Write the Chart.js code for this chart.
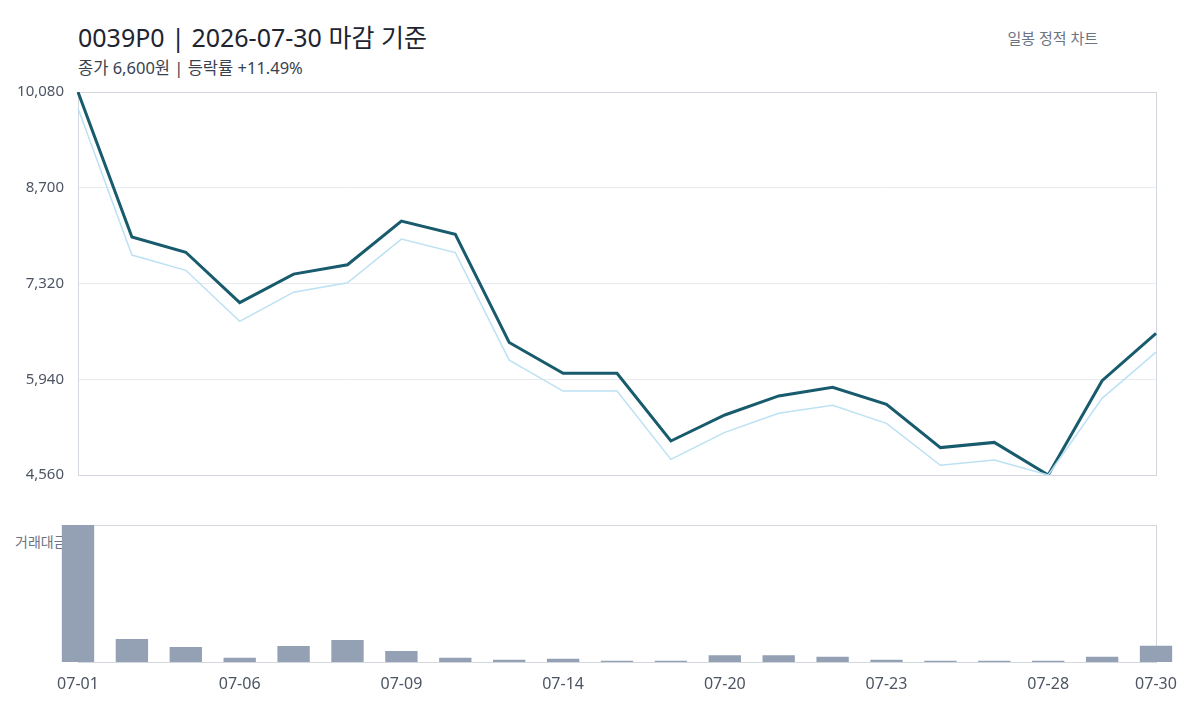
<!DOCTYPE html>
<html>
<head>
<meta charset="utf-8">
<script src="https://cdn.jsdelivr.net/npm/chart.js@4.4.1/dist/chart.umd.min.js"></script>
<style>
  html, body { margin:0; padding:0; background:#ffffff; width:1200px; height:720px; overflow:hidden;
    font-family:"Noto Sans","Noto Sans CJK KR",sans-serif; }
  .txt { position:absolute; line-height:1; white-space:nowrap; }
  #title { left:78px; top:25px; font-size:25px; color:#1e2430; }
  #subtitle { left:78px; top:60px; font-size:16.5px; color:#3a4250; }
  #badge { right:102px; top:31px; font-size:15px; color:#6b7483; }
  #volLabel { left:15px; top:535px; font-size:14px; color:#6b7483; z-index:0; }
  .wrap { position:absolute; left:0; width:1200px; z-index:1; }
  #wrapTop { top:0; height:500px; }
  #wrapBot { top:500px; height:220px; }
</style>
</head>
<body>
<div id="title" class="txt">0039P0 | 2026-07-30 마감 기준</div>
<div id="subtitle" class="txt">종가 6,600원 | 등락률 +11.49%</div>
<div id="badge" class="txt">일봉 정적 차트</div>
<div id="volLabel" class="txt">거래대금</div>
<div id="wrapTop" class="wrap"><canvas id="priceChart" width="1200" height="500"></canvas></div>
<div id="wrapBot" class="wrap"><canvas id="volChart" width="1200" height="220"></canvas></div>
<script>
// ---- data ----
const dates = ['07-01','07-02','07-03','07-06','07-07','07-08','07-09','07-10','07-13','07-14',
               '07-15','07-16','07-20','07-21','07-22','07-23','07-24','07-27','07-28','07-29','07-30'];
const closePrice = [10080, 7990, 7770, 7045, 7455, 7590, 8220, 8030, 6470, 6025,
                    6025, 5050, 5425, 5700, 5825, 5580, 4955, 5030, 4560, 5920, 6600];
const lowPrice = [9845, 7730, 7510, 6775, 7195, 7330, 7960, 7765, 6215, 5770,
                  5770, 4785, 5175, 5450, 5565, 5305, 4700, 4775, 4560, 5665, 6330];
const tradeValue = [137, 23, 15, 4.3, 16, 22, 11, 4.3, 2.3, 3.3,
                    1.3, 1.3, 6.7, 6.7, 5.3, 2.3, 1.3, 1.3, 1.3, 5.3, 16.3];
const yTicks = [4560, 5940, 7320, 8700, 10080];
const xTickLabels = ['07-01','07-06','07-09','07-14','07-20','07-23','07-28','07-30'];

const FONT = '"Noto Sans","Noto Sans CJK KR",sans-serif';

const boxPlugin = {
  id: 'boxPlugin',
  beforeDatasetsDraw(chart) {
    const a = chart.chartArea, ctx = chart.ctx;
    ctx.save();
    ctx.strokeStyle = '#d3d8de';
    ctx.lineWidth = 1;
    ctx.strokeRect(Math.round(a.left) + 0.5, Math.round(a.top) + 0.5,
                   Math.round(a.right - a.left), Math.round(a.bottom - a.top));
    ctx.restore();
  }
};

new Chart(document.getElementById('priceChart'), {
  type: 'line',
  data: {
    labels: dates,
    datasets: [
      { label: '저가', data: lowPrice, borderColor: '#bce1f3', borderWidth: 1.5,
        pointRadius: 0, tension: 0, fill: false },
      { label: '종가', data: closePrice, borderColor: '#185b6d', borderWidth: 3,
        pointRadius: 0, tension: 0, fill: false }
    ]
  },
  options: {
    responsive: false,
    animation: false,
    devicePixelRatio: 1,
    layout: { padding: { top: 92, bottom: 25, left: 0, right: 44 } },
    plugins: { legend: { display: false }, tooltip: { enabled: false } },
    scales: {
      x: { display: false, offset: false },
      y: {
        min: 4560, max: 10080,
        afterBuildTicks(s) { s.ticks = yTicks.map(v => ({ value: v })); },
        afterFit(s) { s.width = 78; },
        grid: { color: '#e7eaee', drawTicks: false },
        border: { display: false },
        ticks: {
          padding: 14,
          color: '#4d5563',
          font: { family: FONT, size: 15 },
          callback: v => Number(v).toLocaleString('en-US')
        }
      }
    }
  },
  plugins: [boxPlugin]
});

new Chart(document.getElementById('volChart'), {
  type: 'bar',
  data: {
    labels: dates,
    datasets: [
      { label: '거래대금', data: tradeValue, backgroundColor: '#94a1b5',
        categoryPercentage: 1.0, barPercentage: 0.6, clip: false }
    ]
  },
  options: {
    responsive: false,
    animation: false,
    devicePixelRatio: 1,
    layout: { padding: { top: 25, bottom: 0, left: 78, right: 44 } },
    plugins: { legend: { display: false }, tooltip: { enabled: false } },
    scales: {
      x: {
        offset: false,
        afterFit(s) { s.height = 58; },
        grid: { display: false, drawTicks: false },
        border: { display: false },
        ticks: {
          autoSkip: false,
          maxRotation: 0,
          padding: 13,
          color: '#4d5563',
          font: { family: FONT, size: 16 },
          callback: function(v, i) {
            const l = dates[i];
            return xTickLabels.includes(l) ? l : '';
          }
        }
      },
      y: { display: false, min: 0, max: Math.max(...tradeValue) }
    }
  },
  plugins: [boxPlugin]
});
</script>
</body>
</html>
